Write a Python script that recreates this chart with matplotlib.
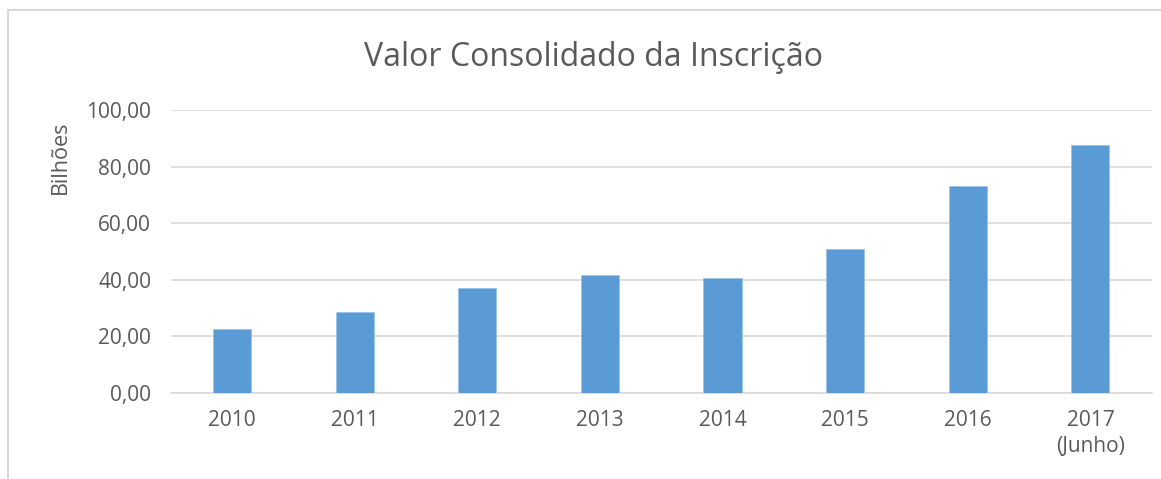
import numpy as np
import matplotlib.pyplot as plt
from matplotlib.lines import Line2D

################

years = ['2010', '2011', '2012', '2013', '2014', '2015', '2016', '2017\n(Junho)']
valores = [22.5, 28.8, 37.0, 41.9, 40.5, 51.0, 73.1, 87.7]
y_ticks = [0, 20, 40, 60, 80, 100]
y_tick_labels = ['0,00', '20,00', '40,00', '60,00', '80,00', '100,00']

################

plt.rcParams['font.family'] = ['Open Sans', 'DejaVu Sans']
text_color = '#595959'
grid_color = '#D9D9D9'

fig = plt.figure(figsize=(11.61, 4.79), dpi=100)
ax = fig.add_axes([0.147, 0.1795, 0.845, 0.5905])

x = np.arange(len(years))
ax.bar(x, valores, width=0.31, color='#5B9BD5', edgecolor='#9DC3E6', linewidth=0.6, zorder=3)

ax.set_xlim(-0.5, len(years) - 0.5)
ax.set_ylim(0, 100)
ax.set_yticks(y_ticks)
ax.set_yticklabels(y_tick_labels)
ax.set_xticks(x)
ax.set_xticklabels(years, linespacing=1.35, va='top')

ax.grid(axis='y', color=grid_color, linewidth=1.2, zorder=0)
for s in ['top', 'right', 'left']:
    ax.spines[s].set_visible(False)
ax.spines['bottom'].set_color(grid_color)
ax.spines['bottom'].set_linewidth(1.2)
ax.tick_params(axis='both', length=0, labelsize=15, colors=text_color)
ax.tick_params(axis='x', pad=12)
ax.tick_params(axis='y', pad=14)

fig.text(0.511, 0.879, 'Valor Consolidado da Inscrição', ha='center', va='center',
         fontsize=23, color=text_color)
fig.text(0.052, 0.672, 'Bilhões', rotation=90, ha='center', va='center',
         fontsize=15.5, color=text_color)

# chart border (only left and top visible in the crop)
fig.add_artist(Line2D([8 / 1161, 8 / 1161], [0, 1 - 10 / 479], transform=fig.transFigure,
                      color='#D9D9D9', linewidth=1.5))
fig.add_artist(Line2D([8 / 1161, 1], [1 - 10 / 479, 1 - 10 / 479], transform=fig.transFigure,
                      color='#D9D9D9', linewidth=1.5))

plt.savefig('out.png', dpi=100)
